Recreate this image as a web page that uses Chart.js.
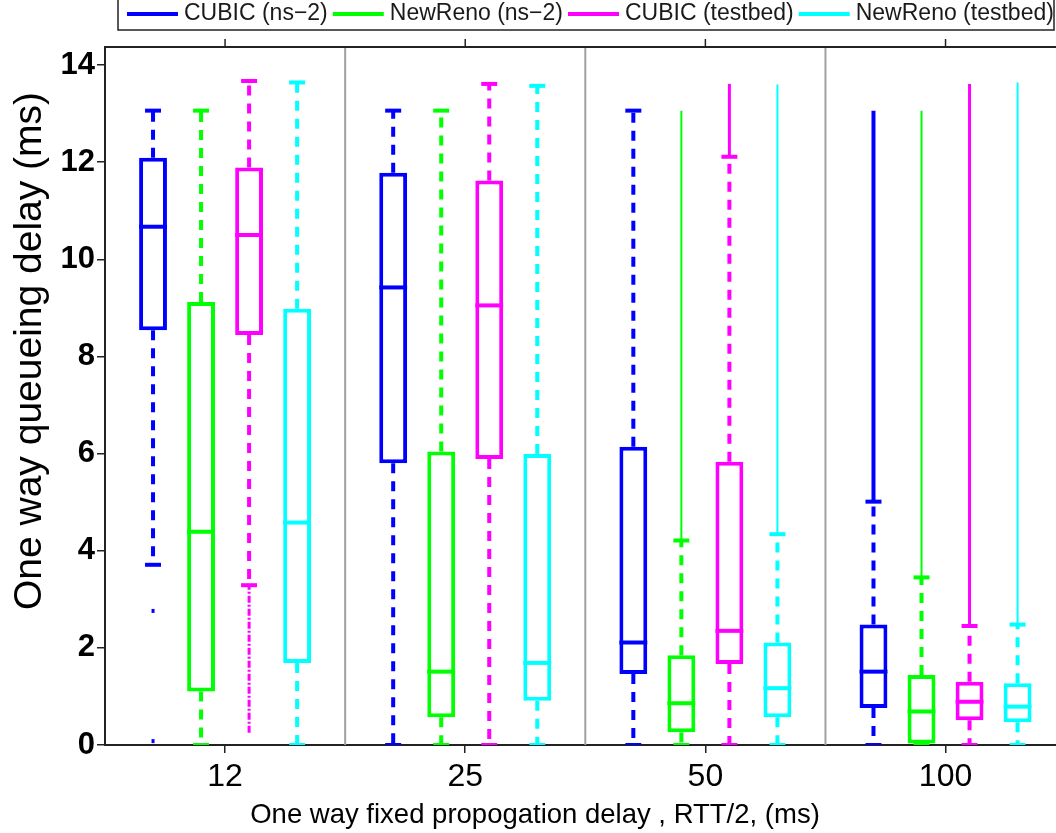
<!DOCTYPE html>
<html>
<head>
<meta charset="utf-8">
<script src="https://cdn.jsdelivr.net/npm/chart.js@4.4.0/dist/chart.umd.min.js"></script>
<style>
  html, body { margin: 0; padding: 0; background: #fff; overflow: hidden; }
  #wrap { width: 1056px; height: 833px; }
</style>
</head>
<body>
<div id="wrap"><canvas id="boxChart" width="1056" height="833"></canvas></div>
<script>
// one way fixed propagation delay groups (ms)
const groups = ['12', '25', '50', '100'];
const seriesNames = ['CUBIC (ns\u22122)', 'NewReno (ns\u22122)', 'CUBIC (testbed)', 'NewReno (testbed)'];
const seriesColors = ['#0000ff', '#00ff00', '#ff00ff', '#00ffff'];

// box stats, [series][group] (ms)
const whiskerLow  = [[3.71, 0, 0, 0], [0, 0, 0, 0], [3.29, 0, 0, 0], [0, 0, 0, 0]];
const q1          = [[8.54, 5.80, 1.46, 0.76], [1.10, 0.57, 0.26, 0.03], [8.44, 5.89, 1.67, 0.51], [1.69, 0.91, 0.57, 0.47]];
const median      = [[10.67, 9.42, 2.11, 1.51], [4.39, 1.51, 0.86, 0.69], [10.50, 9.05, 2.35, 0.89], [4.58, 1.69, 1.17, 0.79]];
const q3          = [[12.09, 11.78, 6.14, 2.48], [9.12, 6.04, 1.85, 1.44], [11.89, 11.62, 5.83, 1.30], [8.98, 5.99, 2.11, 1.27]];
const whiskerHigh = [[13.06, 13.06, 13.06, 5.01], [13.06, 13.06, 4.21, 3.45], [13.67, 13.61, 12.11, 2.45], [13.64, 13.57, 4.34, 2.48]];
// outliers: dense runs [from, to] (they print as a line), single ones as [v, v]
const outliers = [
  [[[2.76, 2.76], [0.08, 0.08]], [], [], [[5.01, 13.06]]],
  [[], [], [[4.21, 13.06]], [[3.45, 13.06]]],
  [[[0.25, 3.29]], [], [[12.11, 13.61]], [[2.45, 13.61]]],
  [[], [], [[4.34, 13.60]], [[2.48, 13.64]]]
];

const xTitle = 'One way fixed propogation delay , RTT/2, (ms)';
const yTitle = 'One way queueing delay (ms)';

const FONT = '"Liberation Sans", Arial, sans-serif';
const outlierWidths = [4, 2, 3, 2];

function strokeLine(ctx, x1, y1, x2, y2) {
  ctx.beginPath();
  ctx.moveTo(x1, y1);
  ctx.lineTo(x2, y2);
  ctx.stroke();
}

const boxExtras = {
  id: 'boxExtras',
  beforeDatasetsDraw(chart) {
    const { ctx, chartArea, scales: { x, y } } = chart;
    ctx.save();

    // group dividers
    ctx.strokeStyle = '#a0a0a0';
    ctx.lineWidth = 2;
    for (let i = 1; i < groups.length; i++) {
      const px = x.getPixelForValue(i + 0.5);
      strokeLine(ctx, px, chartArea.top, px, chartArea.bottom);
    }

    ctx.beginPath();
    ctx.rect(chartArea.left, chartArea.top, chartArea.right - chartArea.left, chartArea.bottom - chartArea.top);
    ctx.clip();

    seriesNames.forEach((name, s) => {
      const meta = chart.getDatasetMeta(s);
      meta.data.forEach((bar, g) => {
        const bx = bar.x;
        ctx.strokeStyle = seriesColors[s];
        ctx.fillStyle = seriesColors[s];

        // outliers
        ctx.lineWidth = outlierWidths[s];
        ctx.setLineDash(s === 2 && g === 0 ? [7, 2, 2, 2] : []);
        outliers[s][g].forEach(([lo, hi]) => {
          const yTop = y.getPixelForValue(hi);
          const yBot = y.getPixelForValue(lo);
          if (yBot - yTop < 2) {
            ctx.fillRect(bx - 1.5, yTop - 2, 3, 4);
          } else {
            strokeLine(ctx, bx, yBot, bx, yTop);
          }
        });

        // whiskers
        const yHi = y.getPixelForValue(whiskerHigh[s][g]);
        const yLo = y.getPixelForValue(whiskerLow[s][g]);
        ctx.lineWidth = 4;
        ctx.setLineDash([10, 8]);
        strokeLine(ctx, bx, y.getPixelForValue(q3[s][g]), bx, yHi);
        strokeLine(ctx, bx, y.getPixelForValue(q1[s][g]), bx, yLo);

        // caps
        ctx.setLineDash([]);
        strokeLine(ctx, bx - 8, yHi, bx + 8, yHi);
        strokeLine(ctx, bx - 8, yLo, bx + 8, yLo);
      });
    });
    ctx.restore();
  },
  afterDatasetsDraw(chart) {
    const { ctx, scales: { y } } = chart;
    ctx.save();
    ctx.lineWidth = 4;
    seriesNames.forEach((name, s) => {
      chart.getDatasetMeta(s).data.forEach((bar, g) => {
        const my = y.getPixelForValue(median[s][g]);
        ctx.strokeStyle = seriesColors[s];
        strokeLine(ctx, bar.x - bar.width / 2, my, bar.x + bar.width / 2, my);
      });
    });
    ctx.restore();
  },
  afterDraw(chart) {
    const { ctx, chartArea, scales: { x } } = chart;
    ctx.save();

    // top frame with outward ticks
    ctx.strokeStyle = '#222';
    ctx.lineWidth = 2;
    strokeLine(ctx, chartArea.left, chartArea.top, chartArea.right, chartArea.top);
    ctx.lineWidth = 1.5;
    groups.forEach((g, i) => {
      const px = x.getPixelForValue(i + 1);
      strokeLine(ctx, px, chartArea.top, px, chartArea.top - 8);
    });

    // axis titles (the original sits them off-centre)
    ctx.fillStyle = '#000';
    ctx.textAlign = 'center';
    ctx.textBaseline = 'middle';
    ctx.font = '27.5px ' + FONT;
    ctx.fillText(xTitle, 535, 815);
    ctx.save();
    ctx.translate(30, 351);
    ctx.rotate(-Math.PI / 2);
    ctx.font = '39px ' + FONT;
    ctx.fillText(yTitle, 0, 0);
    ctx.restore();

    // legend box across the top
    ctx.strokeStyle = '#222';
    ctx.lineWidth = 1.5;
    ctx.strokeRect(118, -5, 936, 35);
    ctx.font = '23px ' + FONT;
    ctx.textAlign = 'left';
    let lx = 127;
    seriesNames.forEach((name, i) => {
      ctx.strokeStyle = seriesColors[i];
      ctx.lineWidth = 4;
      strokeLine(ctx, lx, 14, lx + 51, 14);
      lx += 57;
      ctx.fillStyle = '#1a1a1a';
      ctx.fillText(name, lx, 14);
      lx += ctx.measureText(name).width + 5;
    });
    ctx.restore();
  }
};

const ctx = document.getElementById('boxChart').getContext('2d');
new Chart(ctx, {
  type: 'bar',
  data: {
    datasets: seriesNames.map((name, s) => ({
      label: name,
      data: groups.map((g, i) => ({ x: i + 1, y: [q1[s][i], q3[s][i]] })),
      backgroundColor: '#ffffff',
      borderColor: seriesColors[s],
      borderWidth: 4,
      borderSkipped: false,
      categoryPercentage: 0.8,
      barPercentage: 0.58
    }))
  },
  options: {
    responsive: false,
    animation: false,
    layout: { padding: { top: 47, left: 0, right: 0, bottom: 0 } },
    plugins: {
      legend: { display: false },
      tooltip: { enabled: false }
    },
    scales: {
      x: {
        type: 'linear',
        min: 0.5,
        max: 4.46,
        offset: false,
        afterBuildTicks: scale => { scale.ticks = groups.map((g, i) => ({ value: i + 1 })); },
        afterFit: scale => { scale.height = 88; },
        ticks: {
          callback: v => groups[v - 1],
          font: { family: FONT, size: 32 },
          color: '#000',
          padding: 5,
          autoSkip: false,
          maxRotation: 0
        },
        grid: { offset: false, drawOnChartArea: false, tickLength: 8, color: '#222', lineWidth: 1.5 },
        border: { color: '#222', width: 2 }
      },
      y: {
        min: 0,
        max: 14.37,
        afterFit: scale => { scale.width = 105; },
        ticks: {
          stepSize: 2,
          includeBounds: false,
          font: { family: FONT, size: 31, weight: 'bold' },
          color: '#000',
          padding: 2
        },
        grid: { drawOnChartArea: false, tickLength: 8, color: '#222', lineWidth: 1.5 },
        border: { color: '#222', width: 2 }
      }
    }
  },
  plugins: [boxExtras]
});
</script>
</body>
</html>
